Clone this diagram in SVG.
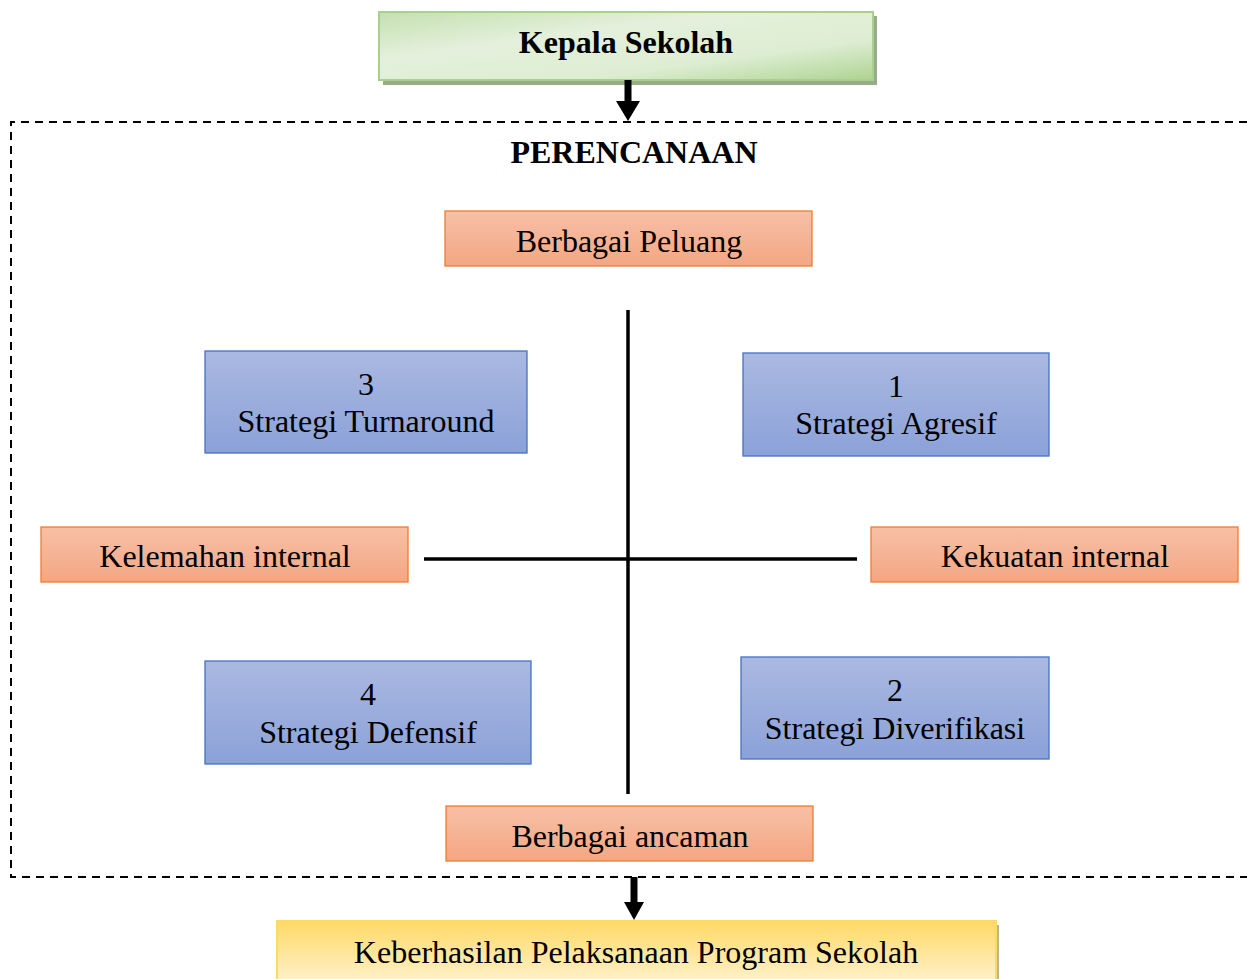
<svg xmlns="http://www.w3.org/2000/svg" width="1247" height="979" viewBox="0 0 1247 979">
<defs>
<linearGradient id="gOrange" x1="0" y1="0" x2="0" y2="1">
<stop offset="0" stop-color="#F7C0A6"/><stop offset="1" stop-color="#F4A683"/>
</linearGradient>
<linearGradient id="gBlue" x1="0" y1="0" x2="0" y2="1">
<stop offset="0" stop-color="#AAB9E1"/><stop offset="1" stop-color="#8BA1D8"/>
</linearGradient>
<linearGradient id="gGreen" x1="0" y1="0" x2="1" y2="1">
<stop offset="0" stop-color="#C4E0B0"/><stop offset="0.35" stop-color="#E4F0DC"/><stop offset="0.7" stop-color="#DDEDD2"/><stop offset="1" stop-color="#AED392"/>
</linearGradient>
<linearGradient id="gYellow" x1="0" y1="0" x2="0" y2="1">
<stop offset="0" stop-color="#FFD966"/><stop offset="1" stop-color="#FFF2CC"/>
</linearGradient>
</defs>
<style>
text{font-family:"Liberation Serif","Times New Roman",serif;font-size:32px;fill:#000;text-anchor:middle}
.b{font-weight:bold}
.or{fill:url(#gOrange);stroke:#ED7D31;stroke-width:1.3}
.bl{fill:url(#gBlue);stroke:#4472C4;stroke-width:1.3}
.dash{fill:none;stroke:#000;stroke-width:2;stroke-dasharray:8 6}
.ln{stroke:#000;stroke-width:3.5}
</style>

<g id="planning-frame">
<path class="dash" d="M1247 122 H11 V877 H1247"/>
<text class="b" x="634" y="163">PERENCANAAN</text>
</g>

<g id="kepala-sekolah">
<rect x="383" y="16" width="494" height="69" fill="#9AAB8C"/>
<rect x="379" y="12" width="494" height="68" fill="url(#gGreen)" stroke="#A9D18E" stroke-width="2"/>
<text class="b" x="626" y="53">Kepala Sekolah</text>
</g>

<g id="berbagai-peluang">
<rect class="or" x="445" y="211" width="367" height="55"/>
<text x="629" y="252">Berbagai Peluang</text>
</g>

<g id="strategi-turnaround">
<rect class="bl" x="205" y="351" width="322" height="102"/>
<text x="366" y="395">3</text>
<text x="366" y="432">Strategi Turnaround</text>
</g>

<g id="strategi-agresif">
<rect class="bl" x="743" y="353" width="306" height="103"/>
<text x="896" y="397">1</text>
<text x="896" y="434">Strategi Agresif</text>
</g>

<g id="kelemahan-internal">
<rect class="or" x="41" y="527" width="367" height="55"/>
<text x="225" y="567">Kelemahan internal</text>
</g>

<g id="kekuatan-internal">
<rect class="or" x="871" y="527" width="367" height="55"/>
<text x="1055" y="567">Kekuatan internal</text>
</g>

<g id="strategi-defensif">
<rect class="bl" x="205" y="661" width="326" height="103"/>
<text x="368" y="705">4</text>
<text x="368" y="743">Strategi Defensif</text>
</g>

<g id="strategi-diverifikasi">
<rect class="bl" x="741" y="657" width="308" height="102"/>
<text x="895" y="701">2</text>
<text x="895" y="739">Strategi Diverifikasi</text>
</g>

<g id="berbagai-ancaman">
<rect class="or" x="446" y="806" width="367" height="55"/>
<text x="630" y="847">Berbagai ancaman</text>
</g>

<g id="keberhasilan">
<rect x="281" y="925" width="718" height="60" fill="#BDB58F"/>
<rect x="277" y="921" width="719" height="62" fill="url(#gYellow)" stroke="#FFD966" stroke-width="2"/>
<text x="636" y="963">Keberhasilan Pelaksanaan Program Sekolah</text>
</g>

<g id="connectors">
<line class="ln" x1="628" y1="310" x2="628" y2="794"/>
<line class="ln" x1="424" y1="559" x2="857" y2="559"/>
<line x1="628" y1="80" x2="628" y2="103" stroke="#000" stroke-width="7"/>
<polygon points="616,101 640,101 628,121" fill="#000"/>
<line x1="634" y1="877" x2="634" y2="904" stroke="#000" stroke-width="7"/>
<polygon points="624,902 644,902 634,920" fill="#000"/>
</g>
</svg>
